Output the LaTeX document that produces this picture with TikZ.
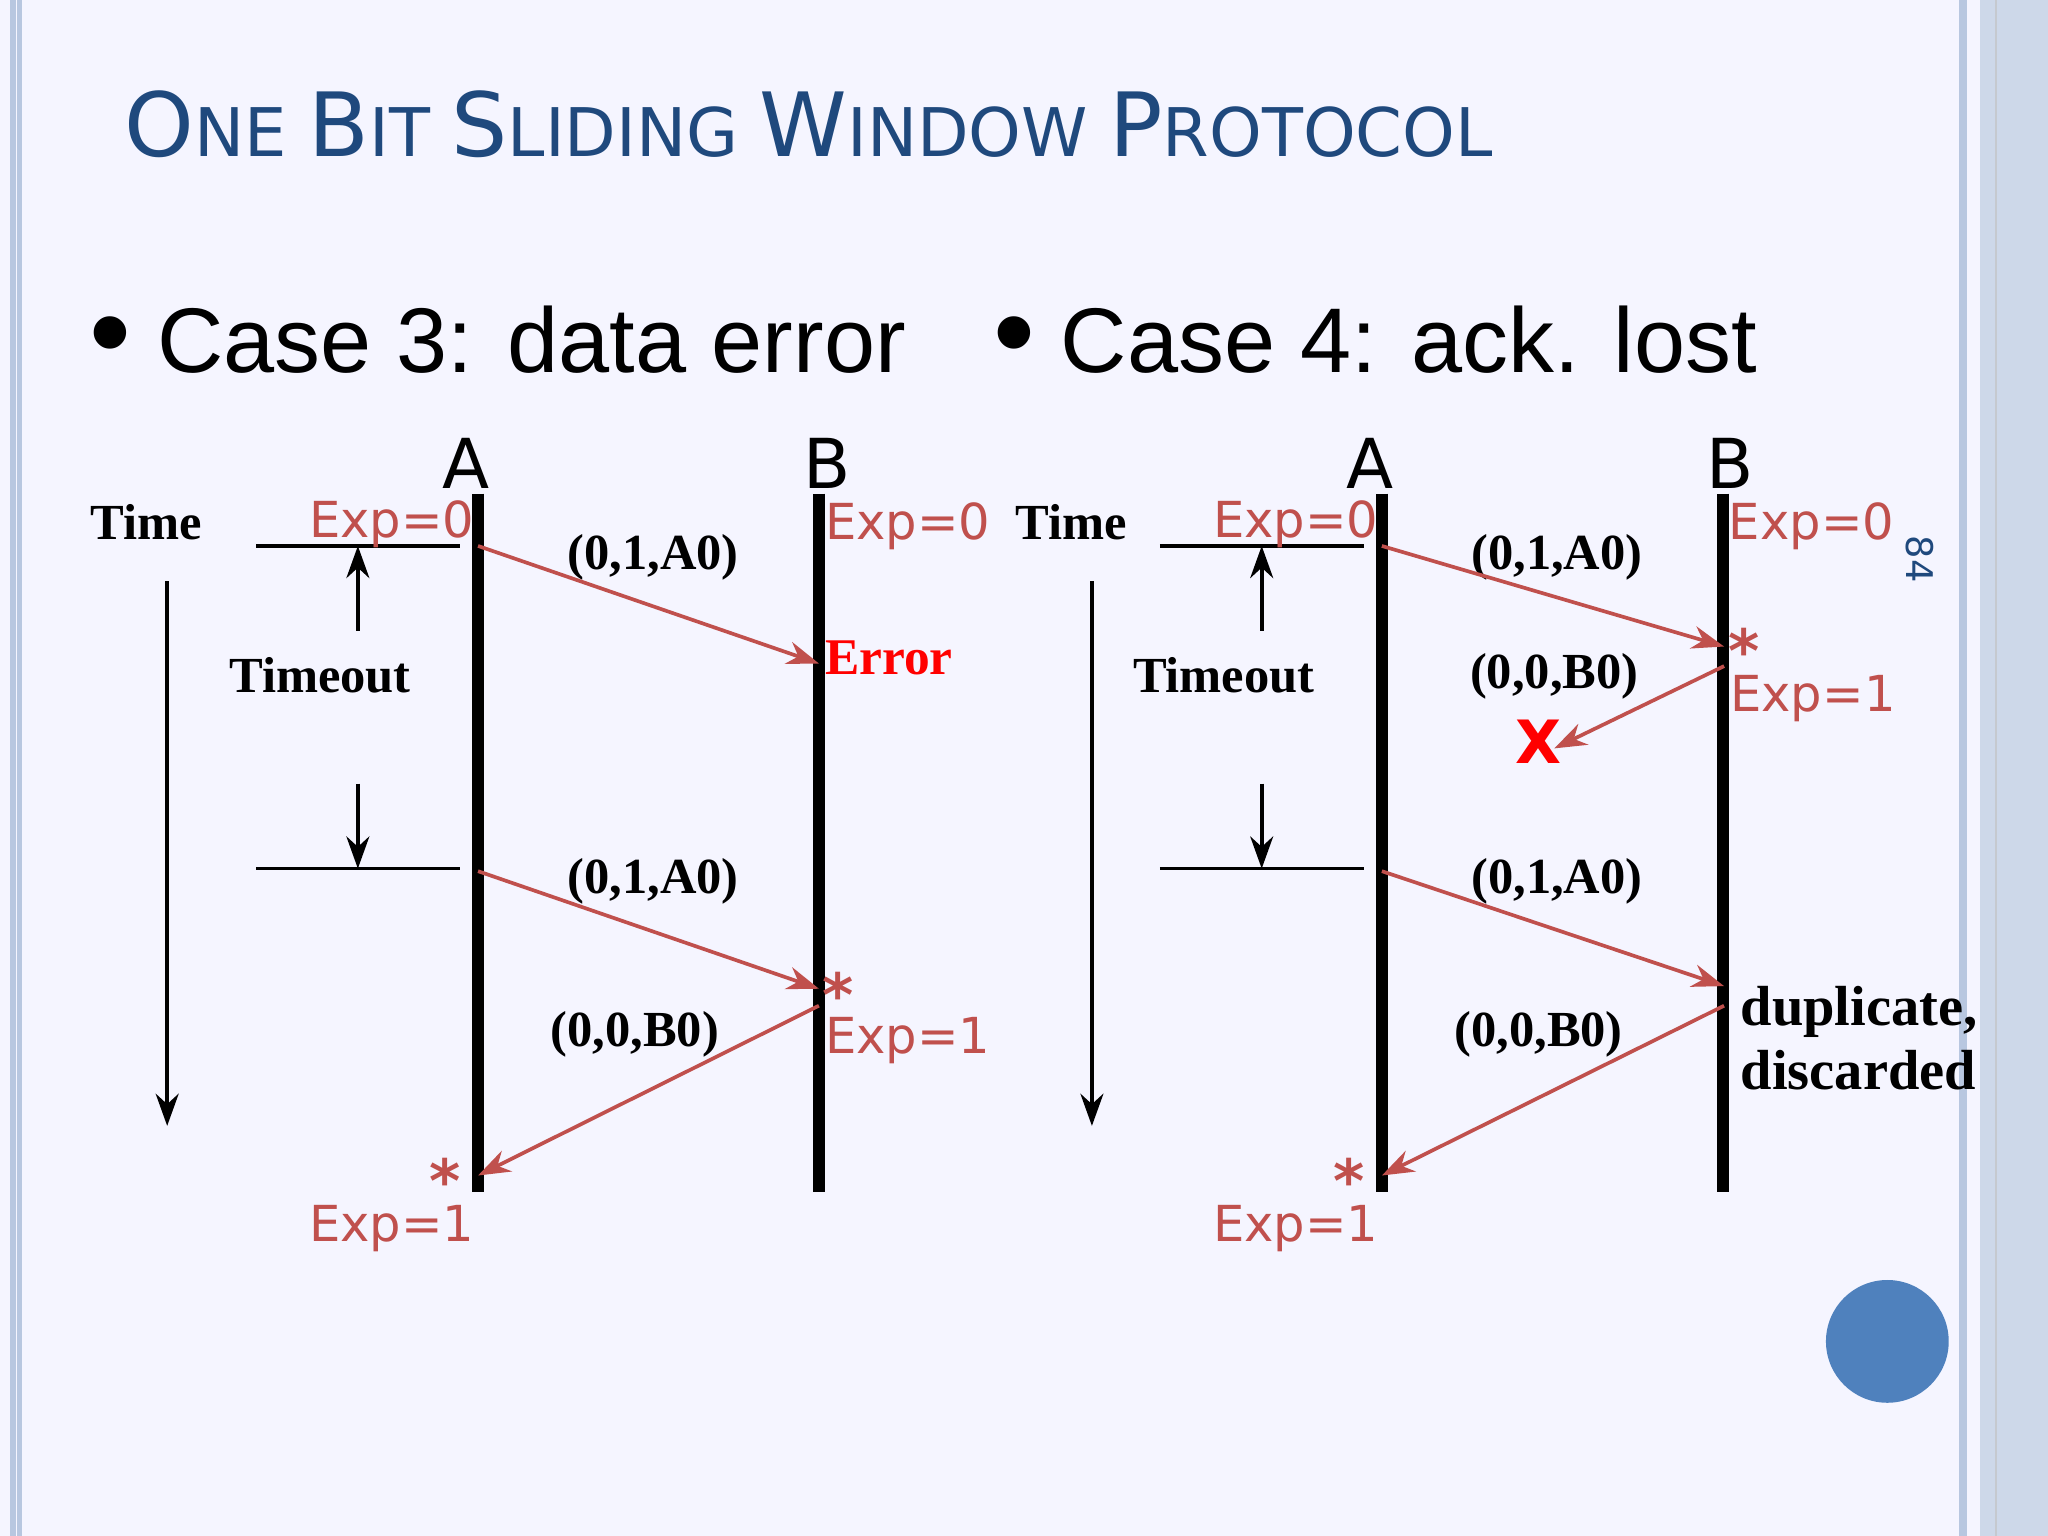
\documentclass[tikz,border=0pt]{standalone}
\usepackage{fontspec}
\setmainfont{Liberation Serif}
\setsansfont{DejaVu Sans}
\newfontfamily\bulfont{Liberation Sans}
\usetikzlibrary{arrows.meta}
\definecolor{tl}{HTML}{1F497D}
\definecolor{rd}{HTML}{C0504D}
\definecolor{bl}{HTML}{4F81BD}
\definecolor{strip}{HTML}{B8C7E0}
\tikzset{
 life/.style={line width=2.6pt},
 msg/.style={rd,line width=0.8pt,-{Stealth[length=7pt,width=5pt]}},
 blk/.style={line width=0.8pt,-{Stealth[length=7pt,width=5pt]}},
 lbl/.style={font=\fontsize{11}{11}\selectfont\bfseries},
 exp/.style={rd,font=\sffamily\fontsize{10.8}{11}\selectfont,inner sep=0},
 hd/.style={font=\sffamily\fontsize{15}{15}\selectfont,inner sep=0},
 star/.style={rd,font=\sffamily\bfseries\fontsize{13}{13}\selectfont,inner sep=0},
}
\begin{document}
\begin{tikzpicture}[x=0.01cm,y=-0.01cm]
\useasboundingbox (0,0) rectangle (1568,1176);
\fill[white!96!blue] (0,0) rectangle (1568,1176);
% borders
\draw[strip,line width=1.2pt] (10,0)--(10,1176);
\draw[strip,line width=1pt] (15,0)--(15,1176);
\fill[strip] (1500,0) rectangle (1506,1176);
\fill[strip!70] (1516,0) rectangle (1568,1176);
\draw[strip!60!black!40,line width=0.5pt] (1528,0)--(1528,1176);
\fill[bl] (1445,1027) circle (47);
\node[tl,rotate=-90,font=\sffamily\fontsize{8}{8}\selectfont] (pg) at (1470,428) {84};
% title
\node[tl,anchor=base west,inner sep=0,font=\sffamily] (title) at (95,120) {\fontsize{19.3}{20}\selectfont O\fontsize{14.6}{15}\selectfont NE \fontsize{19.3}{20}\selectfont B\fontsize{14.6}{15}\selectfont IT \fontsize{19.3}{20}\selectfont S\fontsize{14.6}{15}\selectfont LIDING \fontsize{19.3}{20}\selectfont W\fontsize{14.6}{15}\selectfont INDOW \fontsize{19.3}{20}\selectfont P\fontsize{14.6}{15}\selectfont ROTOCOL};
\node[anchor=base west,inner sep=0,font=\bulfont\fontsize{20}{20}\selectfont] (c3) at (68,285) {{\fontsize{26}{26}\selectfont\textbullet}\ Case 3: data error};
\node[anchor=base west,inner sep=0,font=\bulfont\fontsize{20}{20}\selectfont] (c4) at (760,285) {{\fontsize{26}{26}\selectfont\textbullet}\ Case 4: ack. lost};
% time axes
\foreach \o/\n in {0/L,708/R}{
 \begin{scope}[xshift=\o*0.01cm]
 \node[lbl] (T\n) at (112,400) {Time};
 \coordinate (t1\n) at (128,445); \coordinate (t2\n) at (128,862);
 \draw[blk] (t1\n)--(t2\n);
 \end{scope}}
% ---- generic per case
\foreach \o/\n in {0/L,692/R}{
 \begin{scope}[xshift=\o*0.01cm]
 \node[hd] (A\n) at (357,355) {A};
 \node[hd] (B\n) at (633,355) {B};
 \coordinate (At\n) at (366,378); \coordinate (Ab\n) at (366,913);
 \coordinate (Bt\n) at (627,378); \coordinate (Bb\n) at (627,913);
 \draw[life] (At\n)--(Ab\n); \draw[life] (Bt\n)--(Bb\n);
 \coordinate (h1a\n) at (196,418); \coordinate (h1b\n) at (352,418);
 \coordinate (h2a\n) at (196,665); \coordinate (h2b\n) at (352,665);
 \draw[line width=0.8pt] (h1a\n)--(h1b\n); \draw[line width=0.8pt] (h2a\n)--(h2b\n);
 \coordinate (u1\n) at (274,483); \coordinate (u2\n) at (274,418);
 \coordinate (d1\n) at (274,600); \coordinate (d2\n) at (274,665);
 \draw[blk] (u1\n)--(u2\n); \draw[blk] (d1\n)--(d2\n);
 \node[lbl] (TO\n) at (245,517) {Timeout};
 \node[exp] (e0a\n) at (300,401) {Exp=0};
 \node[exp,anchor=west] (e0b\n) at (631,403) {Exp=0};
 \node[exp] (e1a\n) at (300,941) {Exp=1};
 \node[star] (s3\n) at (341,904) {*};
 \coordinate (m1\n) at (366,418); \coordinate (m3\n) at (366,667);
 \coordinate (r2\n) at (366,900);
 \node[lbl] (l1\n) at (500,427) {(0,1,A0)};
 \node[lbl] (l3\n) at (500,675) {(0,1,A0)};
 \end{scope}}
% case 3
\coordinate (e1) at (627,508); \coordinate (e3) at (627,757); \coordinate (e4) at (627,770);
\draw[msg] (m1L)--(e1); \draw[msg] (m3L)--(e3); \draw[msg] (e4)--(r2L);
\node[anchor=west,red,font=\fontsize{11.2}{11}\selectfont\bfseries,inner sep=0] (err) at (631,504) {Error};
\node[star] (s1) at (642,761) {*};
\node[exp,anchor=west] (e1bL) at (631,797) {Exp=1};
\node[lbl] (l4L) at (486,792) {(0,0,B0)};
% case 4
\coordinate (f1) at (1320,495); \coordinate (f2) at (1320,510); \coordinate (fx) at (1190,573);
\coordinate (f3) at (1320,755); \coordinate (f4) at (1320,770);
\draw[msg] (m1R)--(f1); \draw[msg] (f2)--(fx); \draw[msg] (m3R)--(f3); \draw[msg] (f4)--(r2R);
\node[red,font=\sffamily\bfseries\fontsize{13}{13}\selectfont,inner sep=0] (x) at (1178,568) {X};
\node[star] (s2) at (1335,498) {*};
\node[exp,anchor=west] (e1bR) at (1324,535) {Exp=1};
\node[lbl] (l2R) at (1190,518) {(0,0,B0)};
\node[lbl] (l4R) at (1178,792) {(0,0,B0)};
\node[anchor=west,align=left,font=\fontsize{12.3}{15}\selectfont\bfseries,inner sep=0] (dup) at (1332,795) {duplicate,\\[-1pt]discarded};
\end{tikzpicture}
\end{document}
